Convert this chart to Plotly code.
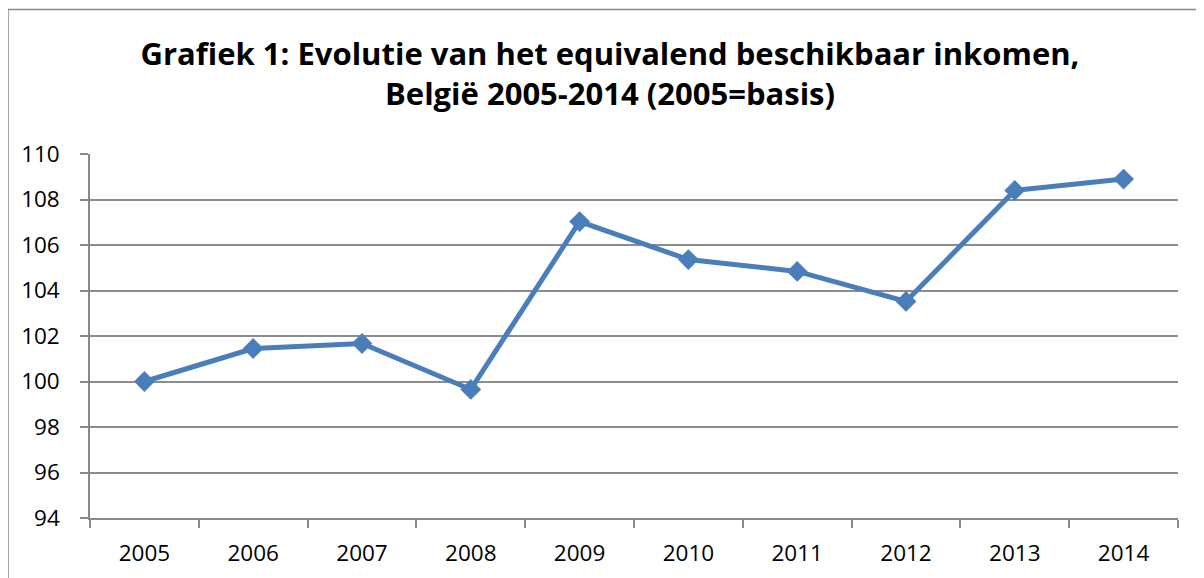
import plotly.graph_objects as go

years = ["2005", "2006", "2007", "2008", "2009", "2010", "2011", "2012", "2013", "2014"]
values = [100.0, 101.45, 101.67, 99.65, 107.03, 105.36, 104.84, 103.52, 108.4, 108.9]
y_ticks = [94, 96, 98, 100, 102, 104, 106, 108, 110]

title_text = "Grafiek 1: Evolutie van het equivalend beschikbaar inkomen,<br>België 2005-2014 (2005=basis)"

FONT = "Open Sans"
OFF = 8  # page body offset
W, H = 1204, 578
L, T = 90 - OFF, 154 - OFF
R = W - (1178 - OFF)
B = H - (518 - OFF)
pw = W - L - R
ph = H - T - B

fig = go.Figure()
fig.add_trace(go.Scatter(
    x=years, y=values, mode="lines+markers",
    line=dict(color="#4A7EBB", width=5),
    marker=dict(symbol="diamond", size=16, color="#4A7EBB"),
    showlegend=False,
))

fig.update_layout(
    width=W, height=H,
    margin=dict(l=L, r=R, t=T, b=B),
    paper_bgcolor="white", plot_bgcolor="white",
    title=dict(text=title_text, x=0.5, xref="container", xanchor="center",
               yref="container", y=1 - 57 / H, yanchor="top",
               font=dict(family=FONT, size=31, color="black", weight="bold")),
    xaxis=dict(
        type="category", tickson="boundaries", ticks="outside", ticklen=8,
        tickcolor="#888888", tickwidth=1.5,
        showline=True, linecolor="#888888", linewidth=1.5,
        showgrid=False, range=[-0.5, 9.5],
        tickfont=dict(family=FONT, size=22.5, color="black"),
        ticklabelstandoff=14,
    ),
    yaxis=dict(
        range=[94, 110], tickvals=y_ticks, ticks="outside", ticklen=8,
        tickcolor="#888888", tickwidth=1.5,
        showline=True, linecolor="#888888", linewidth=1.5,
        showgrid=True, gridcolor="#8c8c8c", gridwidth=1.5,
        zeroline=False,
        tickfont=dict(family=FONT, size=22.5, color="black"),
        ticklabelstandoff=16,
    ),
    shapes=[dict(type="rect", xref="paper", yref="paper",
                 x0=(8 - 90) / pw, x1=1.3, y0=-0.5, y1=(518 - 9.5) / ph,
                 line=dict(color="#888888", width=1.5), layer="below")],
)

fig.write_html("out.html")
